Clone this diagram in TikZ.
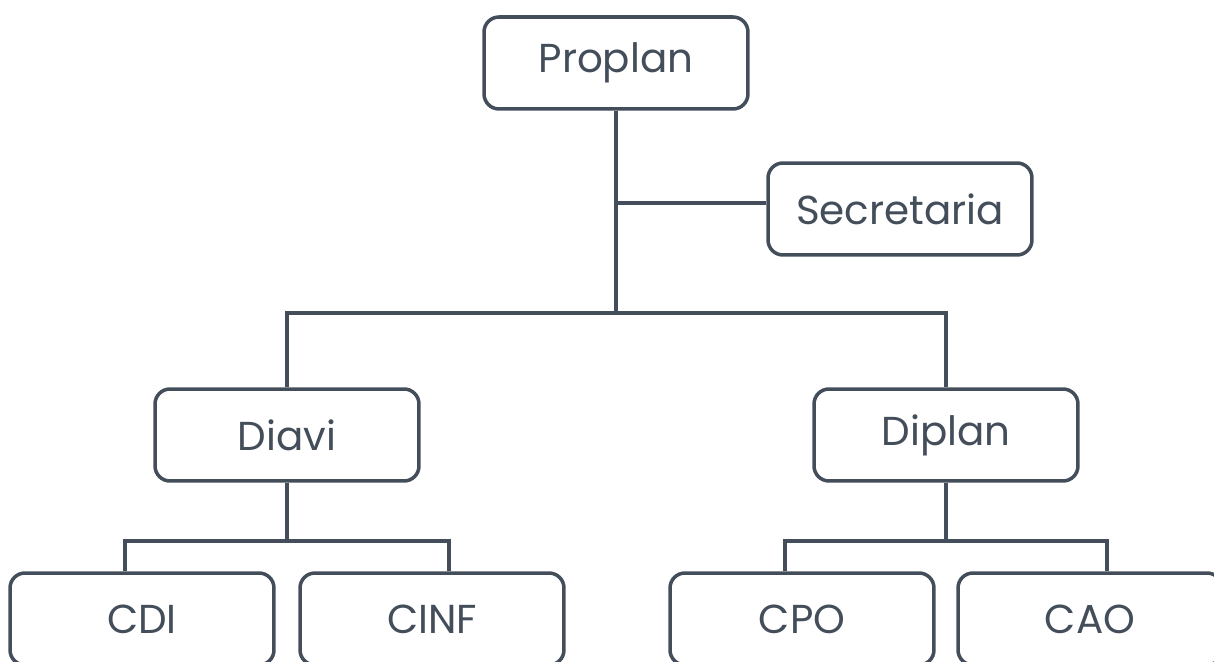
\documentclass[tikz,border=0pt]{standalone}
\usepackage{fontspec}
\setmainfont{Poppins}
\usetikzlibrary{positioning}
\definecolor{slate}{HTML}{434E5A}

\tikzset{
    unit/.style={draw=slate, line width=2pt, rounded corners=0.3cm, fill=white,
        minimum width=5.28cm, minimum height=1.84cm, text=slate,
        font=\fontsize{23}{26}\selectfont},
    link/.style={draw=slate, line width=2pt}
}

\begin{document}
\begin{tikzpicture}[x=0.02cm, y=-0.02cm]
        \useasboundingbox (0,0) rectangle (1214,662);
        \node[unit] (proplan) at (616,63) {Proplan};
        \node[unit] (secretaria) at (900,209) {Secretaria};
        \node[unit] (diavi) at (287,435) {Diavi};
        \node[unit] (diplan) at (946,435) {Diplan};
        \node[unit] (cdi) at (142,619) {CDI};
        \node[unit] (cinf) at (432,619) {CINF};
        \node[unit] (cpo) at (802,619) {CPO};
        \node[unit] (cao) at (1090,619) {CAO};

        \coordinate (split) at (proplan |- 0,313);
        \draw[link] (proplan) -- (split);
        \draw[link] (secretaria.west) ++(0,-6) -- (proplan |- 0,203);
        \draw[link] (diavi) |- (split) -| (diplan);

        % second level
        \coordinate (dv) at (diavi |- 0,541);
        \coordinate (dp) at (diplan |- 0,541);
        \draw[link] (diavi) -- (dv);
        \draw[link] (diplan) -- (dp);
        \draw[link] ([xshift=-3.24cm]dv |- cdi.north) |- (dv) -| ([xshift=3.24cm]dv |- cinf.north);
        \draw[link] ([xshift=-3.22cm]dp |- cpo.north) |- (dp) -| ([xshift=3.22cm]dp |- cao.north);
\end{tikzpicture}
\end{document}
